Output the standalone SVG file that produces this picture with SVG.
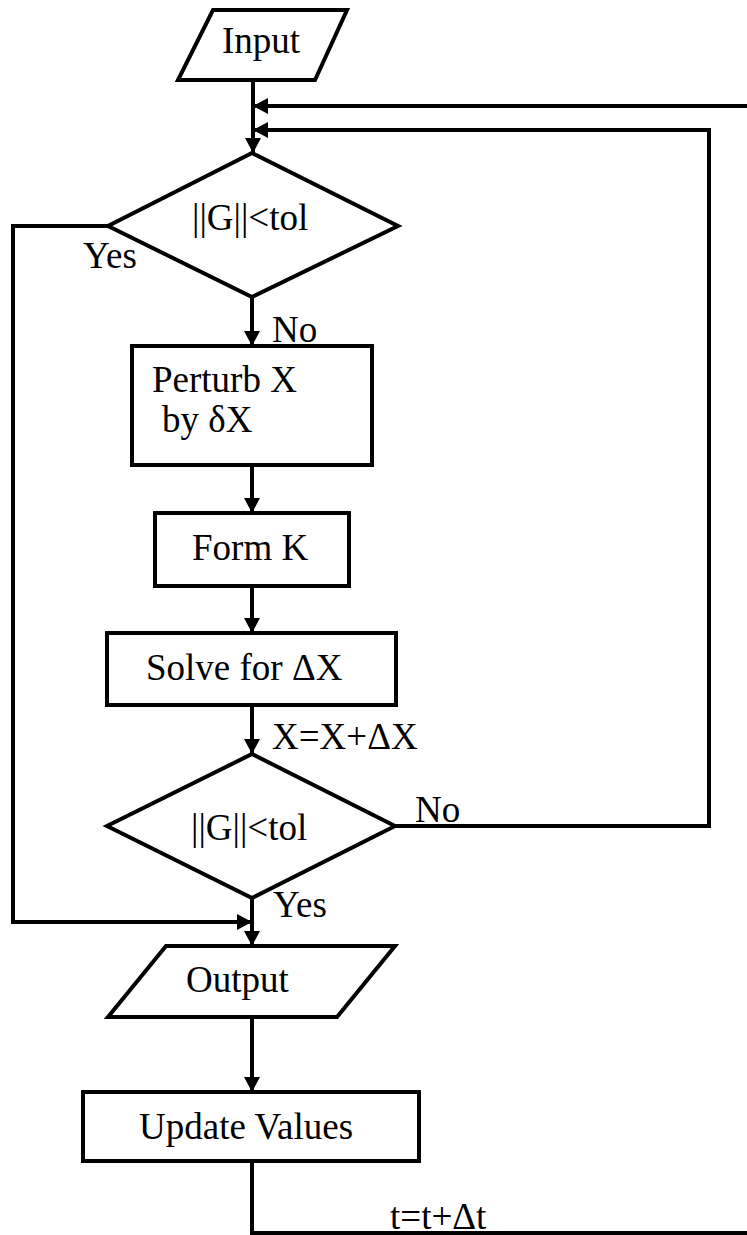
<svg xmlns="http://www.w3.org/2000/svg" width="747" height="1235" viewBox="0 0 747 1235">
<style>
.s{fill:#fff;stroke:#000;stroke-width:4}
.c{fill:none;stroke:#000;stroke-width:4}
text{font-family:"Liberation Serif","Times New Roman",serif;font-size:37px;fill:#000}
</style>
<defs>
<marker id="a" markerUnits="userSpaceOnUse" markerWidth="15" markerHeight="16" refX="15" refY="8" orient="auto">
<path d="M0,0 L15,8 L0,16 z" fill="#000"/>
</marker>
</defs>
<rect width="747" height="1235" fill="#fff"/>
<g id="connectors">
<path class="c" d="M253,80 V153" marker-end="url(#a)"/>
<path class="c" d="M747,106 H253" marker-end="url(#a)"/>
<path class="c" d="M395,826 H709 V130 H253" marker-end="url(#a)"/>
<path class="c" d="M108,226 H13 V922 H252" marker-end="url(#a)"/>
<path class="c" d="M252,297 V346" marker-end="url(#a)"/>
<path class="c" d="M252,465 V513" marker-end="url(#a)"/>
<path class="c" d="M252,586 V633" marker-end="url(#a)"/>
<path class="c" d="M252,705 V754" marker-end="url(#a)"/>
<path class="c" d="M252,898 V946" marker-end="url(#a)"/>
<path class="c" d="M252,1017 V1092" marker-end="url(#a)"/>
<path class="c" d="M252,1161 V1233 H747"/>
<text x="272" y="342">No</text>
<text x="83" y="268">Yes</text>
<text x="272" y="749">X=X+ΔX</text>
<text x="415" y="822">No</text>
<text x="273" y="917">Yes</text>
<text x="390" y="1229">t=t+Δt</text>
</g>
<g id="input">
<polygon class="s" points="213,10 347,10 315,80 178,80"/>
<text x="222" y="53">Input</text>
</g>
<g id="decision1">
<polygon class="s" points="252,153 398,226 252,297 108,226"/>
<text x="192" y="230">||G||&lt;tol</text>
</g>
<g id="perturb">
<rect class="s" x="132" y="346" width="240" height="119"/>
<text x="152" y="392">Perturb X</text>
<text x="162" y="432">by δX</text>
</g>
<g id="formk">
<rect class="s" x="155" y="513" width="194" height="73"/>
<text x="192" y="560">Form K</text>
</g>
<g id="solve">
<rect class="s" x="107" y="633" width="289" height="72"/>
<text x="146" y="680">Solve for ΔX</text>
</g>
<g id="decision2">
<polygon class="s" points="252,754 395,826 252,898 107,826"/>
<text x="191" y="840">||G||&lt;tol</text>
</g>
<g id="output">
<polygon class="s" points="166,946 395,946 337,1017 108,1017"/>
<text x="186" y="992">Output</text>
</g>
<g id="update">
<rect class="s" x="83" y="1092" width="336" height="69"/>
<text x="139" y="1139">Update Values</text>
</g>
</svg>
